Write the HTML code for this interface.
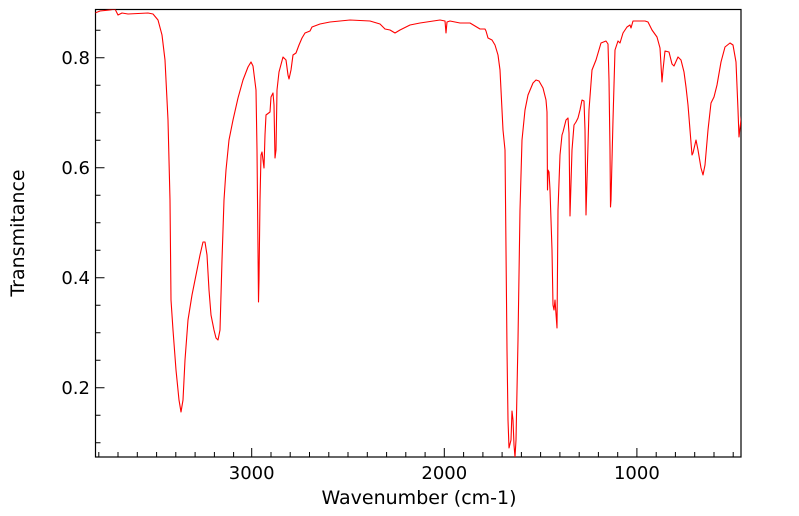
<!DOCTYPE html>
<html><head><meta charset="utf-8"><style>
body{margin:0;background:#fff;}
svg{display:block;font-family:"DejaVu Sans","Liberation Sans",sans-serif;}
</style></head><body>
<svg width="799" height="516" viewBox="0 0 799 516">
<rect x="95.5" y="9.5" width="645.5" height="447.5" fill="none" stroke="#000" stroke-width="1.2"/>
<g stroke="#000" stroke-width="1">
<path d="M251.7 457v-9M444.3 457v-9M636.9 457v-9"/>
<path d="M98.8 457v-5M118 457v-5M137.3 457v-5M156.6 457v-5M175.8 457v-5M195.1 457v-5M214.4 457v-5M233.6 457v-5M271 457v-5M290.2 457v-5M309.5 457v-5M328.8 457v-5M348 457v-5M367.3 457v-5M386.6 457v-5M405.8 457v-5M425.1 457v-5M463.6 457v-5M482.9 457v-5M502.1 457v-5M521.4 457v-5M540.6 457v-5M559.9 457v-5M579.2 457v-5M598.4 457v-5M617.7 457v-5M656.2 457v-5M675.4 457v-5M694.7 457v-5M714 457v-5M733.2 457v-5"/>
<path d="M95.5 57.7h9M95.5 167.7h9M95.5 277.7h9M95.5 387.7h9"/>
<path d="M95.5 30.2h5M95.5 85.2h5M95.5 112.7h5M95.5 140.2h5M95.5 195.2h5M95.5 222.7h5M95.5 250.2h5M95.5 305.2h5M95.5 332.7h5M95.5 360.2h5M95.5 415.2h5M95.5 442.7h5"/>
</g>
<g font-size="18" fill="#000">
<text x="90" y="64" text-anchor="end">0.8</text>
<text x="90" y="174" text-anchor="end">0.6</text>
<text x="90" y="284" text-anchor="end">0.4</text>
<text x="90" y="394" text-anchor="end">0.2</text>
<text x="251.7" y="479" text-anchor="middle">3000</text>
<text x="444.3" y="479" text-anchor="middle">2000</text>
<text x="636.9" y="479" text-anchor="middle">1000</text>
<text x="419" y="504" text-anchor="middle" font-size="19">Wavenumber (cm-1)</text>
<text transform="translate(24,233) rotate(-90)" text-anchor="middle" font-size="19">Transmitance</text>
</g>
<clipPath id="c"><rect x="95.5" y="9.5" width="645.5" height="447.5"/></clipPath>
<polyline clip-path="url(#c)" fill="none" stroke="#f00" stroke-width="1.1" stroke-linejoin="round" points="
95,13 100,11 110,10 115,9 118,15 122,13 128,14 148,13 153,14 158,20 162,35 165,60 168,120 170,200 171,300 173,330 176,370 179,400 181,412 183,400 185,360 188,320 192,295 196,275 200,255 203,242 205,242 207,255 209,290 211,315 214,330 216,338 218,340 220,330 222,260 224,200 226,170 229,140 233,120 238,98 243,80 248,67 251,62 253,66 256,90 257,150 258,250 258.5,302 259,280 260,200 261,155 262,152 264,168 265,135 266,115 270,112 271,97 273,93 274,105 275,158 276,150 277,90 279,72 283,57 286,60 288,75 289,79 291,70 293,55 296,53 299,45 302,38 305,33 310,31 312,27 320,24 330,22 350,20 370,21 380,24 385,29 390,30 395,33 400,30 410,25 420,23 440,20 445,21 446,33 447,22 450,21 460,23 470,23 480,29 485,29 486,31 488,38 492,40 495,45 498,55 500,70 502,110 503,130 505,150 506,250 507,350 508,420 509,448 511,440 512,411 513,420 514,445 515,457 516,440 518,340 520,210 522,140 525,110 528,95 533,83 536,80 539,81 543,88 546,100 547,112 547.5,190 548,170 549,172 550,190 552,250 553,305 554,310 555,300 557,328 558,210 560,155 562,135 563,132 566,120 568,118 569,133 570,216 572,150 574,125 576,122 578,118 580,110 582,100 584,101 585,130 586,215 587,180 589,110 592,70 596,60 601,43 606,41 608,44 609,80 610,150 610.5,207 611,200 613,120 615,50 618,41 620,43 623,33 627,27 630,25 631,28 633,21 645,21 648,22 652,30 657,37 660,48 662,82 663,70 665,51 669,52 672,64 674,66 678,57 681,60 684,72 686,87 688,105 690,130 692,155 693,153 696,140 698,150 701,168 703,175 705,165 708,130 711,103 714,97 717,85 721,62 725,47 730,43 733,45 736,62 738,110 739,137 740,128 742,112"/>
</svg>
</body></html>
